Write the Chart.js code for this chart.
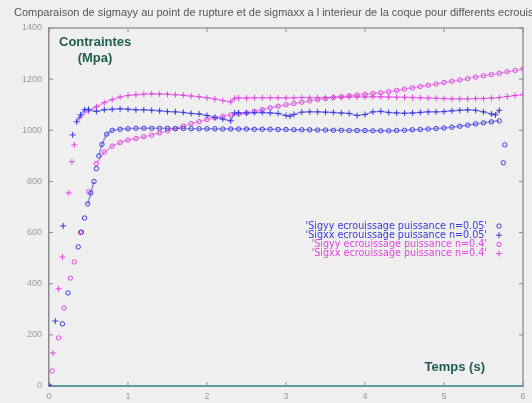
<!DOCTYPE html>
<html>
<head>
<meta charset="utf-8">
<script src="https://cdn.jsdelivr.net/npm/chart.js@4/dist/chart.umd.min.js"></script>
<style>
  body { margin: 0; background: #efefef; }
  #chart { display: block; }
</style>
</head>
<body>
<canvas id="chart" width="532" height="403"></canvas>
<script>
const titleText = "Comparaison de sigmayy au point de rupture et de sigmaxx a l interieur de la coque pour differents ecrouissages";
const xTicks = [0, 1, 2, 3, 4, 5, 6];
const yTicks = [0, 200, 400, 600, 800, 1000, 1200, 1400];

const legendLabels = [
  "'Sigyy ecrouissage puissance n=0.05'",
  "'Sigxx ecrouissage puissance n=0.05'",
  "'Sigyy ecrouissage puissance n=0.4'",
  "'Sigxx ecrouissage puissance n=0.4'"
];

// Sigyy n=0.05 (blue circles)
const tYy005 = [0, 0.17, 0.24, 0.37, 0.41, 0.45, 0.49, 0.53, 0.57, 0.6, 0.63, 0.67, 0.73, 0.8, 0.9,
  1.0, 1.1, 1.2, 1.3, 1.4, 1.5, 1.6, 1.7, 1.8, 1.9, 2.0, 2.1, 2.2, 2.3, 2.4, 2.5, 2.6, 2.7, 2.8, 2.9,
  3.0, 3.1, 3.2, 3.3, 3.4, 3.5, 3.6, 3.7, 3.8, 3.9, 4.0, 4.1, 4.2, 4.3, 4.4, 4.5, 4.6, 4.7, 4.8, 4.9,
  5.0, 5.1, 5.2, 5.3, 5.4, 5.5, 5.6, 5.7, 5.72, 5.75, 5.77];
const sYy005 = [0, 243, 364, 544, 602, 657, 712, 755, 800, 850, 900, 945, 985, 1000, 1004,
  1006, 1008, 1008, 1008, 1008, 1008, 1007, 1007, 1006, 1006, 1006, 1006, 1005, 1005, 1005, 1005, 1004, 1004, 1004, 1003,
  1003, 1002, 1002, 1002, 1001, 1001, 1000, 1000, 999, 999, 999, 998, 998, 998, 999, 1000, 1002, 1003, 1005, 1007,
  1009, 1012, 1016, 1020, 1025, 1029, 1033, 1037, null, 873, 943];

// Sigxx n=0.05 (blue plus)
const tXx005 = [0, 0.08, 0.18, 0.3, 0.35, 0.4, 0.45, 0.5, 0.6, 0.7, 0.8, 0.9,
  1.0, 1.1, 1.2, 1.3, 1.4, 1.5, 1.6, 1.7, 1.8, 1.9, 2.0, 2.1, 2.2, 2.3, 2.35, 2.4, 2.5, 2.6, 2.7, 2.8, 2.9,
  3.0, 3.05, 3.1, 3.2, 3.3, 3.4, 3.5, 3.6, 3.7, 3.8, 3.9, 4.0, 4.1, 4.2, 4.3, 4.4, 4.5, 4.6, 4.7, 4.8, 4.9,
  5.0, 5.1, 5.2, 5.3, 5.4, 5.5, 5.6, 5.65, 5.7];
const sXx005 = [0, 254, 626, 982, 1033, 1060, 1080, 1082, 1074, 1080, 1082, 1084,
  1082, 1080, 1080, 1078, 1076, 1073, 1072, 1070, 1066, 1064, 1058, 1050, 1044, 1037, 1068, 1068, 1068, 1069, 1070, 1068, 1066,
  1058, 1055, 1062, 1071, 1072, 1072, 1071, 1070, 1068, 1066, 1058, 1062, 1072, 1074, 1070, 1068, 1067, 1068, 1070, 1072, 1072,
  1073, 1076, 1078, 1080, 1078, 1072, 1064, 1060, 1078];

// Sigyy n=0.4 (magenta circles)
const tYy04 = [0, 0.04, 0.12, 0.19, 0.27, 0.32, 0.4, 0.5, 0.6, 0.7, 0.8, 0.9,
  1.0, 1.1, 1.2, 1.3, 1.4, 1.5, 1.6, 1.7, 1.8, 1.9, 2.0, 2.1, 2.2, 2.3, 2.4, 2.5, 2.6, 2.7, 2.8, 2.9,
  3.0, 3.1, 3.2, 3.3, 3.4, 3.5, 3.6, 3.7, 3.8, 3.9, 4.0, 4.1, 4.2, 4.3, 4.4, 4.5, 4.6, 4.7, 4.8, 4.9,
  5.0, 5.1, 5.2, 5.3, 5.4, 5.5, 5.6, 5.7, 5.8, 5.9, 6.0];
const sYy04 = [0, 59, 188, 305, 422, 485, 600, 760, 870, 915, 938, 952,
  962, 968, 975, 981, 990, 998, 1006, 1016, 1026, 1034, 1042, 1049, 1055, 1060, 1064, 1068, 1074, 1081, 1088, 1094,
  1100, 1105, 1110, 1115, 1120, 1124, 1128, 1131, 1135, 1138, 1141, 1144, 1147, 1151, 1156, 1161, 1166, 1171, 1176, 1181,
  1187, 1192, 1197, 1202, 1208, 1213, 1218, 1223, 1229, 1234, 1240];

// Sigxx n=0.4 (magenta plus)
const tXx04 = [0, 0.05, 0.12, 0.17, 0.25, 0.29, 0.32, 0.39, 0.5, 0.6, 0.7, 0.8, 0.9,
  1.0, 1.1, 1.2, 1.3, 1.4, 1.5, 1.6, 1.7, 1.8, 1.9, 2.0, 2.1, 2.2, 2.3, 2.35, 2.4, 2.5, 2.6, 2.7, 2.8, 2.9,
  3.0, 3.1, 3.2, 3.3, 3.4, 3.5, 3.6, 3.7, 3.8, 3.9, 4.0, 4.1, 4.2, 4.3, 4.4, 4.5, 4.6, 4.7, 4.8, 4.9,
  5.0, 5.1, 5.2, 5.3, 5.4, 5.5, 5.6, 5.7, 5.8, 5.9, 6.0];
const sXx04 = [0, 129, 380, 504, 755, 877, 943, 1049, 1075, 1092, 1108, 1120, 1130,
  1136, 1139, 1141, 1143, 1142, 1141, 1139, 1137, 1134, 1131, 1127, 1122, 1116, 1111, 1125, 1126, 1126, 1127, 1127, 1127, 1127,
  1127, 1127, 1128, 1128, 1128, 1128, 1129, 1129, 1130, 1130, 1130, 1131, 1131, 1130, 1129, 1129, 1128, 1127, 1126, 1125,
  1124, 1123, 1123, 1123, 1124, 1124, 1126, 1128, 1132, 1136, 1139];

const blue = "#3a3ade";
const magenta = "#e046e0";

function pairs(ts, vs) {
  return ts.map((t, i) => ({ x: t, y: vs[i] }));
}

// the steep early part is only scattered marks in the original, so hide those joins
function segColor(color) {
  return ctx => Math.abs(ctx.p1.y - ctx.p0.y) > 12 ? "rgba(0,0,0,0)" : color + "88";
}

function series(label, ts, vs, color, style) {
  return {
    label: label,
    data: pairs(ts, vs),
    showLine: true,
    spanGaps: false,
    borderColor: color + "88",
    borderWidth: 1.5,
    segment: { borderColor: segColor(color) },
    pointStyle: style,
    pointRadius: style === "cross" ? 3 : 2.2,
    pointBorderColor: color,
    pointBackgroundColor: "rgba(0,0,0,0)",
    pointBorderWidth: 1,
    tension: 0
  };
}

const frameAndText = {
  id: "frameAndText",
  beforeDatasetsDraw(chart) {
    const { ctx, chartArea: a, scales } = chart;
    ctx.save();
    // top and right border
    ctx.strokeStyle = "#9a9a9a";
    ctx.lineWidth = 1.5;
    ctx.beginPath();
    ctx.moveTo(a.left, a.top);
    ctx.lineTo(a.right, a.top);
    ctx.lineTo(a.right, a.bottom);
    ctx.stroke();
    // inward ticks
    ctx.lineWidth = 1;
    ctx.strokeStyle = "#8a8a8a";
    yTicks.forEach(v => {
      const y = scales.y.getPixelForValue(v);
      ctx.beginPath();
      ctx.moveTo(a.left, y); ctx.lineTo(a.left + 4, y);
      ctx.moveTo(a.right, y); ctx.lineTo(a.right - 4, y);
      ctx.stroke();
    });
    xTicks.forEach(v => {
      const x = scales.x.getPixelForValue(v);
      ctx.beginPath();
      ctx.moveTo(x, a.bottom); ctx.lineTo(x, a.bottom - 4);
      ctx.moveTo(x, a.top); ctx.lineTo(x, a.top + 4);
      ctx.stroke();
    });
    ctx.restore();
  },
  afterDraw(chart) {
    const { ctx, chartArea: a } = chart;
    ctx.save();
    ctx.textBaseline = "alphabetic";
    ctx.fillStyle = "#555";
    ctx.font = '11px "Liberation Sans", sans-serif';
    ctx.textAlign = "left";
    ctx.fillText(titleText, 14, 16);

    ctx.fillStyle = "#1e5c50";
    ctx.font = 'bold 13px "Liberation Sans", sans-serif';
    ctx.fillText("Contraintes", a.left + 10, a.top + 18);
    ctx.textAlign = "center";
    ctx.fillText("(Mpa)", a.left + 46, a.top + 34);
    ctx.textAlign = "right";
    ctx.fillText("Temps (s)", a.right - 38, a.bottom - 15);

    // legend
    const colors = [blue, blue, magenta, magenta];
    const styles = ["circle", "cross", "circle", "cross"];
    ctx.font = '9.6px "DejaVu Sans", sans-serif';
    ctx.textBaseline = "middle";
    legendLabels.forEach((txt, i) => {
      const y = a.top + 198 + i * 9.2;
      ctx.fillStyle = colors[i];
      ctx.textAlign = "right";
      ctx.fillText(txt, a.right - 36, y);
      ctx.strokeStyle = colors[i];
      ctx.lineWidth = 1;
      ctx.beginPath();
      if (styles[i] === "circle") {
        ctx.arc(a.right - 24, y, 2.2, 0, Math.PI * 2);
      } else {
        ctx.moveTo(a.right - 27, y); ctx.lineTo(a.right - 21, y);
        ctx.moveTo(a.right - 24, y - 3); ctx.lineTo(a.right - 24, y + 3);
      }
      ctx.stroke();
    });
    ctx.restore();
  }
};

new Chart(document.getElementById("chart"), {
  type: "scatter",
  data: {
    datasets: [
      series(legendLabels[0], tYy005, sYy005, blue, "circle"),
      series(legendLabels[1], tXx005, sXx005, blue, "cross"),
      series(legendLabels[2], tYy04, sYy04, magenta, "circle"),
      series(legendLabels[3], tXx04, sXx04, magenta, "cross")
    ]
  },
  options: {
    responsive: false,
    animation: false,
    layout: { padding: { top: 28, right: 9, left: 0, bottom: 0 } },
    plugins: {
      legend: { display: false },
      tooltip: { enabled: false }
    },
    scales: {
      x: {
        type: "linear",
        min: 0,
        max: 6,
        afterBuildTicks: s => { s.ticks = xTicks.map(v => ({ value: v })); },
        afterFit: s => { s.height = 17; },
        grid: { display: false, drawTicks: false },
        border: { display: true, color: "#5f9c9c", width: 2 },
        ticks: { color: "#9a9a9a", font: { size: 9, family: "Liberation Sans" }, padding: 5, callback: v => String(v) }
      },
      y: {
        min: 0,
        max: 1400,
        afterBuildTicks: s => { s.ticks = yTicks.map(v => ({ value: v })); },
        afterFit: s => { s.width = 49; },
        grid: { display: false, drawTicks: false },
        border: { display: true, color: "#8c8c8c", width: 1.5 },
        ticks: { color: "#9a9a9a", font: { size: 9, family: "Liberation Sans" }, padding: 7, callback: v => String(v) }
      }
    }
  },
  plugins: [frameAndText]
});
</script>
</body>
</html>
